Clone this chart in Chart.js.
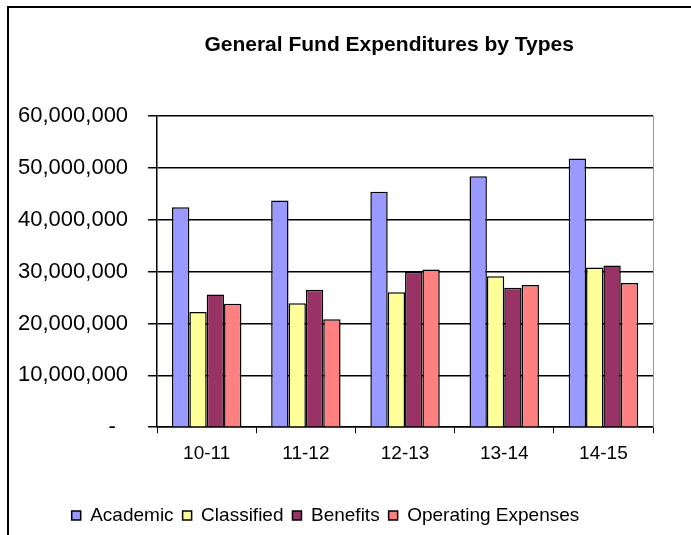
<!DOCTYPE html>
<html>
<head>
<meta charset="utf-8">
<script src="https://cdn.jsdelivr.net/npm/chart.js@4"></script>
<style>
  body { margin: 0; background: #fff; }
  #wrap { position: relative; width: 691px; height: 535px; }
  #frame { position: absolute; left: 7px; top: 6px; right: 0; bottom: 0;
           border-left: 2px solid #000; border-top: 2px solid #000; pointer-events: none; }
  canvas { position: absolute; left: 0; top: 0; }
</style>
</head>
<body>
<div id="wrap">
  <canvas id="chart" width="691" height="535"></canvas>
  <div id="frame"></div>
</div>
<script>
// Anos fiscais
const years = ["10-11", "11-12", "12-13", "13-14", "14-15"];

// Valores
const academic   = [42400000, 43700000, 45400000, 48400000, 51800000];
const classified = [22200000, 23900000, 26000000, 29100000, 30800000];
const benefits   = [25600000, 26500000, 29900000, 26900000, 31200000];
const operating  = [23800000, 20800000, 30400000, 27400000, 27800000];

// Eixo Y
const yTicks = [0, 10000000, 20000000, 30000000, 40000000, 50000000, 60000000];

const titleText = 'General Fund Expenditures by Types';

// Título (um pouco à esquerda do centro da área do gráfico, como no original)
// e borda direita cinza da área do gráfico
const extras = {
  id: 'extras',
  afterDraw(chart) {
    const a = chart.chartArea, c = chart.ctx;
    c.save();
    c.strokeStyle = '#999';
    c.lineWidth = 1;
    c.beginPath();
    c.moveTo(Math.round(a.right) + 0.5, a.top);
    c.lineTo(Math.round(a.right) + 0.5, a.bottom);
    c.stroke();

    c.fillStyle = '#000';
    c.font = "bold 21px 'Liberation Sans', Arial";
    c.textAlign = 'center';
    c.textBaseline = 'middle';
    c.fillText(titleText, a.left + a.width * 0.468, 45);
    c.restore();
  }
};

function ds(label, data, color) {
  return {
    label: label,
    data: data,
    backgroundColor: color,
    borderColor: '#000',
    borderWidth: 1.5,
    barPercentage: 1,
    categoryPercentage: 0.7
  };
}

new Chart(document.getElementById('chart'), {
  type: 'bar',
  data: {
    labels: years,
    datasets: [
      ds('Academic', academic, '#9999FF'),
      ds('Classified', classified, '#FFFF99'),
      ds('Benefits', benefits, '#993366'),
      ds('Operating Expenses', operating, '#FF8080')
    ]
  },
  plugins: [extras],
  options: {
    responsive: false,
    animation: false,
    layout: { padding: { left: -2, right: 38, top: 116, bottom: 0 } },
    plugins: {
      title: { display: false },
      legend: {
        position: 'bottom',
        labels: {
          color: '#000',
          boxWidth: 9,
          boxHeight: 9,
          padding: 9,
          font: { family: "'Liberation Sans', Arial", size: 19 }
        }
      },
      tooltip: { enabled: false }
    },
    scales: {
      x: {
        grid: { display: true, drawOnChartArea: false, offset: true, color: '#000', tickLength: 6 },
        border: { color: '#000', width: 1.5 },
        ticks: {
          color: '#000',
          padding: 9,
          font: { family: "'Liberation Sans', Arial", size: 19 }
        },
        afterFit(scale) { scale.height += 23; }
      },
      y: {
        min: 0,
        max: 60000000,
        afterBuildTicks(scale) { scale.ticks = yTicks.map(v => ({ value: v })); },
        grid: { color: '#000', lineWidth: 1.5, tickLength: 9 },
        border: { color: '#000', width: 1.5 },
        ticks: {
          color: '#000',
          padding: 20,
          font: { family: "'Liberation Sans', Arial", size: 22 },
          callback: v => v === 0 ? '-  ' : v.toLocaleString('en-US')
        }
      }
    }
  }
});
</script>
</body>
</html>
